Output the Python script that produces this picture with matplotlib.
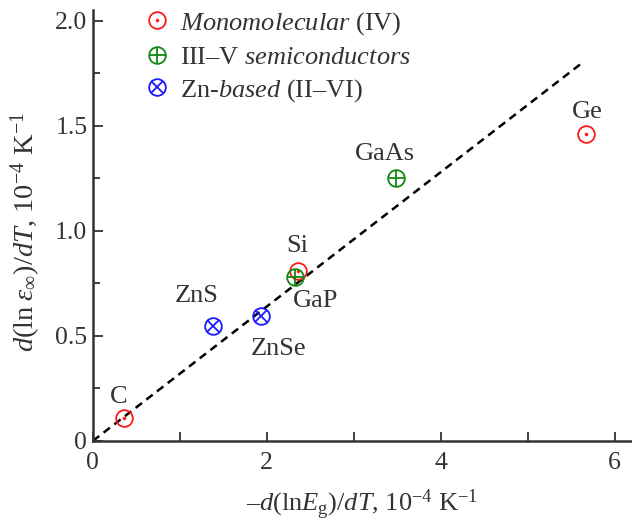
import matplotlib
matplotlib.use("Agg")
import matplotlib.pyplot as plt
from matplotlib.lines import Line2D
from matplotlib.ticker import MultipleLocator

plt.rcParams['font.family'] = ['Liberation Serif', 'DejaVu Serif']
plt.rcParams['mathtext.fontset'] = 'custom'
plt.rcParams['mathtext.rm'] = 'Liberation Serif'
plt.rcParams['mathtext.it'] = 'Liberation Serif:italic'
plt.rcParams['mathtext.bf'] = 'Liberation Serif:bold'

# ---- data ----
mono_names = ["C", "Si", "Ge"]
mono_x = [0.36, 2.36, 5.67]
mono_y = [0.11, 0.81, 1.46]

iiiv_names = ["GaP", "GaAs"]
iiiv_x = [2.32, 3.49]
iiiv_y = [0.78, 1.25]

zn_names = ["ZnS", "ZnSe"]
zn_x = [1.38, 1.93]
zn_y = [0.545, 0.595]

fit_x = [0.0, 5.63]
fit_slope = 0.32

# label offsets (pixels) relative to each point
label_offsets = {"C": (-6, 21), "Si": (-1, 25), "Ge": (1, 22),
                 "GaP": (21, -24), "GaAs": (-11, 24),
                 "ZnS": (-16, 30), "ZnSe": (18, -33)}

TXT = '#333333'
RED = '#ff1a1a'
GREEN = '#118811'
BLUE = '#1a1aff'
MS = 12
MEW = 1.3
FS = 19

fig = plt.figure(figsize=(6.32, 5.23), dpi=100)
ax = fig.add_axes([0.147, 0.157, 0.853, 0.823])

# fit line
ax.plot(fit_x, [fit_slope * v for v in fit_x], ls=(0, (3.2, 2.2)), color='black', lw=1.8, zorder=1)

def draw_group(xs, ys, color, inner, inner_size):
    ax.plot(xs, ys, ls='none', marker='o', ms=MS, mfc='none', mec=color, mew=MEW, zorder=3)
    ax.plot(xs, ys, ls='none', marker=inner, ms=inner_size, mfc=color, mec=color, mew=MEW, zorder=3)

draw_group(mono_x, mono_y, RED, '.', 2.5)
draw_group(iiiv_x, iiiv_y, GREEN, '+', MS)
draw_group(zn_x, zn_y, BLUE, 'x', MS * 0.72)

for names, xs, ys in [(mono_names, mono_x, mono_y), (iiiv_names, iiiv_x, iiiv_y), (zn_names, zn_x, zn_y)]:
    for n, x, y in zip(names, xs, ys):
        dx, dy = label_offsets[n]
        ax.annotate(n, (x, y), xytext=(dx, dy), textcoords='offset pixels',
                    ha='center', va='center', fontsize=FS, color=TXT)

ax.set_xlim(0, 6.2)
ax.set_ylim(0, 2.05)
ax.xaxis.set_minor_locator(MultipleLocator(1))
ax.yaxis.set_minor_locator(MultipleLocator(0.25))
ax.set_xticks([0, 2, 4, 6])
ax.set_xticklabels(['0', '2', '4', '6'])
ax.set_yticks([0, 0.5, 1.0, 1.5, 2.0])
ax.set_yticklabels(['0', '0.5', '1.0', '1.5', '2.0'])

for s in ['top', 'right']:
    ax.spines[s].set_visible(False)
for s in ['left', 'bottom']:
    ax.spines[s].set_linewidth(1.8)
    ax.spines[s].set_color('#333333')

ax.tick_params(which='both', direction='in', color='#333333', width=1.3,
               labelsize=18.5, labelcolor=TXT)
ax.tick_params(axis='y', which='major', length=7, pad=4)
ax.tick_params(axis='y', which='minor', length=5)
ax.tick_params(axis='x', which='major', length=6.5, pad=8)
ax.tick_params(axis='x', which='minor', length=6.5)

ax.set_xlabel(r'–$\mathit{d}$(ln$\mathit{E}_{\mathrm{g}}$)/$\mathit{dT}$, 10$^{-4}$ K$^{-1}$',
              fontsize=FS, color=TXT, labelpad=10)
ax.set_ylabel(r'$\mathit{d}$(ln$\;\varepsilon_{\infty}$)/$\mathit{dT}$, 10$^{-4}$ K$^{-1}$',
              fontsize=20.5, color=TXT)
ax.yaxis.set_label_coords(-0.093, 0.485)

# legend
def handle(color, inner, inner_size):
    return (Line2D([], [], ls='none', marker='o', ms=MS, mfc='none', mec=color, mew=MEW),
            Line2D([], [], ls='none', marker=inner, ms=inner_size, mfc=color, mec=color, mew=MEW))

handles = [handle(RED, '.', 2.5), handle(GREEN, '+', MS), handle(BLUE, 'x', MS * 0.72)]
labels = [r'$\mathit{Monomolecular}$ (IV)', r'III–V $\mathit{semiconductors}$',
          r'Zn-$\mathit{based}$ (II–VI)']
leg = ax.legend(handles, labels, loc='upper left', bbox_to_anchor=(0.074, 1.025),
                frameon=False, fontsize=FS, handlelength=1.0, handletextpad=0.4,
                labelspacing=0.31, borderaxespad=0.0)
for t in leg.get_texts():
    t.set_color(TXT)

fig.savefig('out.png', dpi=100)
